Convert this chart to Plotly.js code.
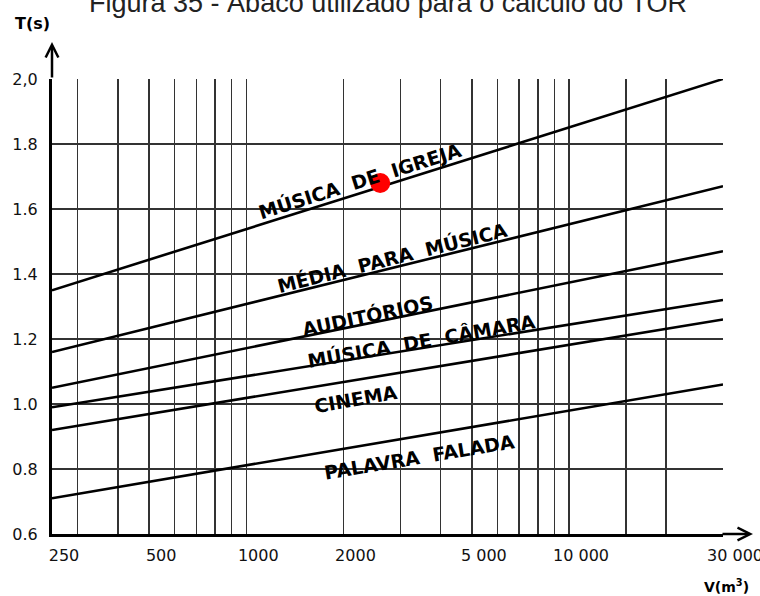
<!DOCTYPE html>
<html>
<head>
<meta charset="utf-8">
<script src="https://cdn.plot.ly/plotly-3.0.1.min.js"></script>
<style>html,body{margin:0;padding:0;background:#fff;}#chart{width:760px;height:596px;}</style>
</head>
<body>
<div id="chart"></div>
<script>
// ---- data ----
const volumes = [250, 30000];               // V (m³) at the chart edges
const seriesNames = ["MÚSICA DE IGREJA", "MÉDIA PARA MÚSICA", "AUDITÓRIOS", "MÚSICA DE CÂMARA", "CINEMA", "PALAVRA FALADA"];
const tIgreja   = [1.35, 2.00];
const tMedia    = [1.16, 1.67];
const tAudit    = [1.05, 1.47];
const tCamara   = [0.99, 1.32];
const tCinema   = [0.92, 1.26];
const tPalavra  = [0.71, 1.06];
const pointV = [2600];
const pointT = [1.68];

const xTickVals = [250,300,400,500,600,700,800,900,1000,2000,3000,4000,5000,6000,7000,8000,9000,10000,15000,20000,30000];
const xTickText = ["250","","","500","","","","","1000","2000","","","5 000","","","","","10 000","","","30 000"];
const yTickVals = [0.6,0.8,1.0,1.2,1.4,1.6,1.8,2.0];
const yTickText = ["0.6","0.8","1.0","1.2","1.4","1.6","1.8","2,0"];

// label anchor points (V, T) and text angle
const labelV = [2250, 2830, 2370, 3500, 2190, 3430];
const labelT = [1.688, 1.452, 1.271, 1.194, 1.015, 0.837];
const labelAngle = [-17.5, -14, -12, -10, -10, -9.5];

// ---- chart ----
const seriesValues = [tIgreja, tMedia, tAudit, tCamara, tCinema, tPalavra];
const traces = seriesValues.map((vals, i) => ({
  type: 'scatter', mode: 'lines', x: volumes, y: vals, name: seriesNames[i],
  line: {color: '#000', width: 2.6}, hoverinfo: 'skip', showlegend: false
}));
traces.push({
  type: 'scatter', mode: 'markers', x: pointV, y: pointT,
  marker: {color: '#ff0000', size: 20}, showlegend: false, hoverinfo: 'skip'
});

const NB = '\u00a0';
const labelFont = {family: 'DejaVu Sans', size: 19, color: '#000', weight: 'bold'};
const annotations = seriesNames.map((name, i) => ({
  xref: 'x', yref: 'y', x: Math.log10(labelV[i]), y: labelT[i],
  text: name.split(' ').join(NB + NB), showarrow: false,
  textangle: labelAngle[i], xanchor: 'center', yanchor: 'middle', font: labelFont
}));

// axis arrows and axis titles
annotations.push({xref:'paper', yref:'paper', x:0, y:1.0813, ax:0, ay:37, axref:'pixel', ayref:'pixel',
  text:'', showarrow:true, arrowhead:5, arrowwidth:2.5, arrowsize:1, arrowcolor:'#000', standoff:0});
annotations.push({xref:'paper', yref:'paper', x:1.0447, y:0, ax:-32, ay:0, axref:'pixel', ayref:'pixel',
  text:'', showarrow:true, arrowhead:5, arrowwidth:2.5, arrowsize:1, arrowcolor:'#000', standoff:0});
annotations.push({xref:'paper', yref:'paper', x:-0.0298, y:1.1209, text:'T(s)', showarrow:false,
  xanchor:'center', yanchor:'middle', font:{family:'DejaVu Sans', size:16, color:'#000', weight:'bold'}});
annotations.push({xref:'paper', yref:'paper', x:1.0045, y:-0.1143, text:'V(m<sup>3</sup>)', showarrow:false,
  xanchor:'center', yanchor:'middle', font:{family:'DejaVu Sans', size:14, color:'#000', weight:'bold'}});

const tickFont = {family: 'DejaVu Sans', size: 16, color: '#111'};
const layout = {
  width: 760, height: 596,
  margin: {l: 52, r: 37, t: 79, b: 62},
  paper_bgcolor: '#fff', plot_bgcolor: '#fff',
  title: {text: 'Figura 35 - Ábaco utilizado para o cálculo do TOR',
    font: {family: 'Liberation Sans', size: 27, color: '#222'},
    x: 0.5105, xanchor: 'center', y: 0.995, yanchor: 'middle'},
  xaxis: {type: 'log', range: [Math.log10(250), Math.log10(30000)],
    tickmode: 'array', tickvals: xTickVals, ticktext: xTickText,
    showgrid: true, gridcolor: '#333', gridwidth: 1.5,
    showline: true, linecolor: '#000', linewidth: 3,
    ticks: '', tickfont: tickFont, ticklabelstandoff: 5, ticklabelshift: 12,
    ticklabeloverflow: 'allow', zeroline: false},
  yaxis: {range: [0.6, 2.0], tickmode: 'array', tickvals: yTickVals, ticktext: yTickText,
    showgrid: true, gridcolor: '#333', gridwidth: 1.5,
    showline: true, linecolor: '#000', linewidth: 3,
    ticks: '', tickfont: tickFont, ticklabelstandoff: 8, zeroline: false},
  annotations: annotations,
  showlegend: false
};

Plotly.newPlot('chart', traces, layout, {displayModeBar: false, staticPlot: true});
</script>
</body>
</html>
